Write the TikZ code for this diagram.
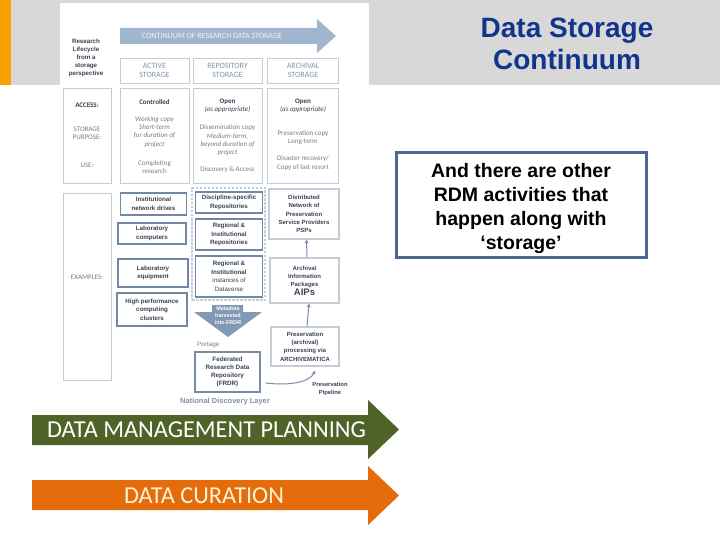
\documentclass[tikz,border=0pt]{standalone}
\usepackage{fontspec}
\setmainfont{Liberation Sans}
\newfontfamily\calib{Carlito}
\usetikzlibrary{arrows.meta}
\definecolor{bannergray}{RGB}{216,216,216}
\definecolor{stripor}{RGB}{247,162,0}
\definecolor{titleblue}{RGB}{18,52,140}
\definecolor{boxblue}{RGB}{74,104,145}
\definecolor{dmpgreen}{RGB}{79,98,40}
\definecolor{curor}{RGB}{228,108,10}
\definecolor{contblue}{RGB}{160,182,206}
\definecolor{hdrtxt}{RGB}{130,148,172}
\definecolor{lightbd}{RGB}{196,205,215}
\definecolor{steelbd}{RGB}{112,136,166}
\definecolor{darktxt}{RGB}{58,66,80}
\definecolor{graytxt}{RGB}{120,124,130}
\definecolor{downblue}{RGB}{130,152,180}
\definecolor{ndl}{RGB}{128,146,170}
\definecolor{arrowgray}{RGB}{120,140,166}
\tikzset{
  hdr/.style={draw=lightbd, line width=0.9pt, text=hdrtxt, align=center, inner sep=0pt,
    font=\calib\fontsize{8}{9}\selectfont},
  rowbox/.style={draw=lightbd, line width=0.9pt, inner sep=0pt},
  lbl/.style={text=graytxt, align=center, inner sep=0pt, font=\calib\fontsize{7}{8.3}\selectfont},
  lblb/.style={text=darktxt, align=center, inner sep=0pt, font=\calib\bfseries\fontsize{7}{8.3}\selectfont},
  lbli/.style={text=graytxt, align=center, inner sep=0pt, font=\calib\itshape\fontsize{7}{8.3}\selectfont},
  exbox/.style={draw=steelbd, line width=1.3pt, text=darktxt, align=center, inner sep=0pt,
    font=\bfseries\fontsize{6.2}{8.5}\selectfont},
  lightex/.style={draw=lightbd, line width=1.2pt, text=darktxt, align=center, inner sep=0pt,
    font=\bfseries\fontsize{6}{8.4}\selectfont},
  conn/.style={draw=arrowgray, line width=1pt, -{Stealth[length=4pt,width=4pt]}},
  bigarrowtxt/.style={font=\calib\fontsize{24.3}{27}\selectfont, inner sep=0pt}
}
\begin{document}
\begin{tikzpicture}[x=1pt,y=-1pt]
\useasboundingbox (0,0) rectangle (720,540);
\fill[white] (0,0) rectangle (720,540);
% banner
\fill[bannergray] (0,0) rectangle (720,85);
\fill[stripor] (0,0) rectangle (11,85);
\fill[white] (60,3.5) rectangle (369,410);
\node[text=titleblue, align=center, font=\bfseries\fontsize{28}{32}\selectfont, inner sep=0pt]
  (title) at (567,43.5) {Data Storage\\Continuum};
% note box
\node[draw=boxblue, line width=3pt, minimum width=250pt, minimum height=104pt, inner sep=0pt]
  (notebox) at (521,205) {};
\node[align=center, font=\bfseries\fontsize{19.5}{24}\selectfont, inner sep=0pt]
  (note) at (521,208.5) {And there are other\\RDM activities that\\happen along with\\‘storage’};
% bottom arrows
\fill[dmpgreen] (32,415) -- (368,415) -- (368,400) -- (399,429.5) -- (368,459) -- (368,445) -- (32,445) -- cycle;
\node[bigarrowtxt, text=white] (dmp) at (206.5,430) {DATA MANAGEMENT PLANNING};
\fill[curor] (32,480) -- (368,480) -- (368,466) -- (399,495.5) -- (368,525) -- (368,510) -- (32,510) -- cycle;
\node[bigarrowtxt, text={rgb,255:red,255;green,243;blue,214}] (cur) at (204,496) {DATA CURATION};
% ---------- embedded diagram ----------
\fill[contblue] (120,28) -- (317,28) -- (317,19) -- (336,36) -- (317,53) -- (317,44) -- (120,44) -- cycle;
\node[text={rgb,255:red,242;green,246;blue,250}, font=\calib\fontsize{8}{9}\selectfont, inner sep=0pt]
  (cont) at (212,36) {CONTINUUM OF RESEARCH DATA STORAGE};
\node[text=darktxt, align=center, font=\bfseries\fontsize{6.2}{8.1}\selectfont, inner sep=0pt]
  (rlc) at (86,58) {Research\\Lifecycle\\from a\\storage\\perspective};
% headers
\node[hdr, minimum width=69pt, minimum height=25pt] (hact) at (154.5,70.5) {ACTIVE\\STORAGE};
\node[hdr, minimum width=69pt, minimum height=25pt] (hrep) at (227.5,70.5) {REPOSITORY\\STORAGE};
\node[hdr, minimum width=71pt, minimum height=25pt] (harc) at (303,70.5) {ARCHIVAL\\STORAGE};
% row 2 boxes
\node[rowbox, minimum width=48pt, minimum height=95pt] (lab2) at (87,136) {};
\node[rowbox, minimum width=69pt, minimum height=95pt] (act2) at (154.5,136) {};
\node[rowbox, minimum width=69pt, minimum height=95pt] (rep2) at (227.5,136) {};
\node[rowbox, minimum width=71pt, minimum height=95pt] (arc2) at (303,136) {};
% row 2 texts
\node[lblb] (acc) at (87,105) {ACCESS:};
\node[lbl] (sp) at (87,133) {STORAGE\\PURPOSE:};
\node[lbl] (use) at (87,165) {USE:};
\node[lblb] (ctl) at (154.5,102) {Controlled};
\node[lbli] (wc) at (154.5,132) {Working copy\\Short-term\\for duration of\\project};
\node[lbl] (cr) at (154.5,167) {Completing\\research};
\node[lblb, align=center] (op1) at (227.5,106) {Open\\{\mdseries\itshape (as appropriate)}};
\node[lbl] (dc) at (227.5,140.5) {Dissemination copy\\{\itshape Medium-term,}\\{\itshape beyond duration of}\\{\itshape project}};
\node[lbl] (da) at (227.5,170) {Discovery \& Access};
\node[lblb, align=center] (op2) at (303,106) {Open\\{\mdseries\itshape (as appropriate)}};
\node[lbl] (pc) at (303,137.5) {Preservation copy\\Long-term};
\node[lbl] (dr) at (303,163) {Disaster recovery/\\Copy of last resort};
% row 3
\node[rowbox, minimum width=48pt, minimum height=187pt] (lab3) at (87,286.5) {};
\node[lbl] (ex) at (87,277) {EXAMPLES:};
\node[exbox, minimum width=66pt, minimum height=22pt] (ind) at (153.5,204) {Institutional\\network drives};
\node[exbox, minimum width=68pt, minimum height=21pt] (lcp) at (152,233.5) {Laboratory\\computers};
\node[exbox, minimum width=70pt, minimum height=28pt] (leq) at (153,273) {Laboratory\\equipment};
\node[exbox, minimum width=70pt, minimum height=33pt] (hpc) at (152,309.5) {High performance\\computing\\clusters};
\node[draw=lightbd, line width=1.2pt, dash pattern=on 2.5pt off 1.5pt, minimum width=73pt, minimum height=112pt, inner sep=0pt]
  (grp) at (228.5,244) {};
\node[exbox, minimum width=67pt, minimum height=21pt] (dsr) at (229,202.5) {Discipline-specific\\Repositories};
\node[exbox, minimum width=67pt, minimum height=31pt] (rir) at (229,234.5) {Regional \&\\Institutional\\Repositories};
\node[exbox, minimum width=67pt, minimum height=41pt] (rid) at (229,276.5) {Regional \&\\Institutional\\{\mdseries instances of}\\{\mdseries Dataverse}};
\node[lightex, minimum width=70pt, minimum height=50pt] (psp) at (304,214) {Distributed\\Network of\\Preservation\\Service Providers\\PSPs};
\node[lightex, minimum width=69pt, minimum height=45pt] (aip) at (304.5,280.5) {Archival\\Information\\Packages\\{\fontsize{9.5}{10}\selectfont AIPs}};
\node[lightex, minimum width=68pt, minimum height=39pt] (amt) at (305,346.5) {Preservation\\(archival)\\processing via\\ARCHIVEMATICA};
% harvest arrow
\fill[downblue] (212,305) -- (243,305) -- (243,312) -- (262,312) -- (228,337) -- (194,312) -- (212,312) -- cycle;
\node[text=white, align=center, font=\bfseries\fontsize{5.4}{7}\selectfont, inner sep=0pt]
  (harv) at (228,315.5) {Metadata\\harvested\\into FRDR};
\node[anchor=west, text=graytxt, font=\fontsize{6.3}{7}\selectfont, inner sep=0pt] (port) at (197,345) {Portage};
\node[exbox, draw=arrowgray, minimum width=65pt, minimum height=40pt, font=\bfseries\fontsize{6.3}{7.8}\selectfont]
  (frdr) at (227.5,372) {Federated\\Research Data\\Repository\\(FRDR)};
\node[text=darktxt, align=center, font=\bfseries\fontsize{5.8}{8}\selectfont, inner sep=0pt]
  (pipe) at (330,389) {Preservation\\Pipeline};
\node[text=ndl, font=\bfseries\fontsize{7.5}{8}\selectfont, inner sep=0pt] (ndl) at (225,402) {National Discovery Layer};
% connectors
\draw[conn] ([xshift=2.5pt]aip.north) -- ([xshift=2.5pt]psp.south);
\draw[conn] ([xshift=2pt]amt.north) -- ([xshift=4.5pt]aip.south);
\coordinate (pp1) at ([xshift=5pt,yshift=-11pt]frdr.east);
\coordinate (pp2) at ([xshift=10pt,yshift=-4pt]amt.south);
\draw[conn] (pp1) .. controls (290,386) and (310,382) .. (pp2);
\end{tikzpicture}
\end{document}
